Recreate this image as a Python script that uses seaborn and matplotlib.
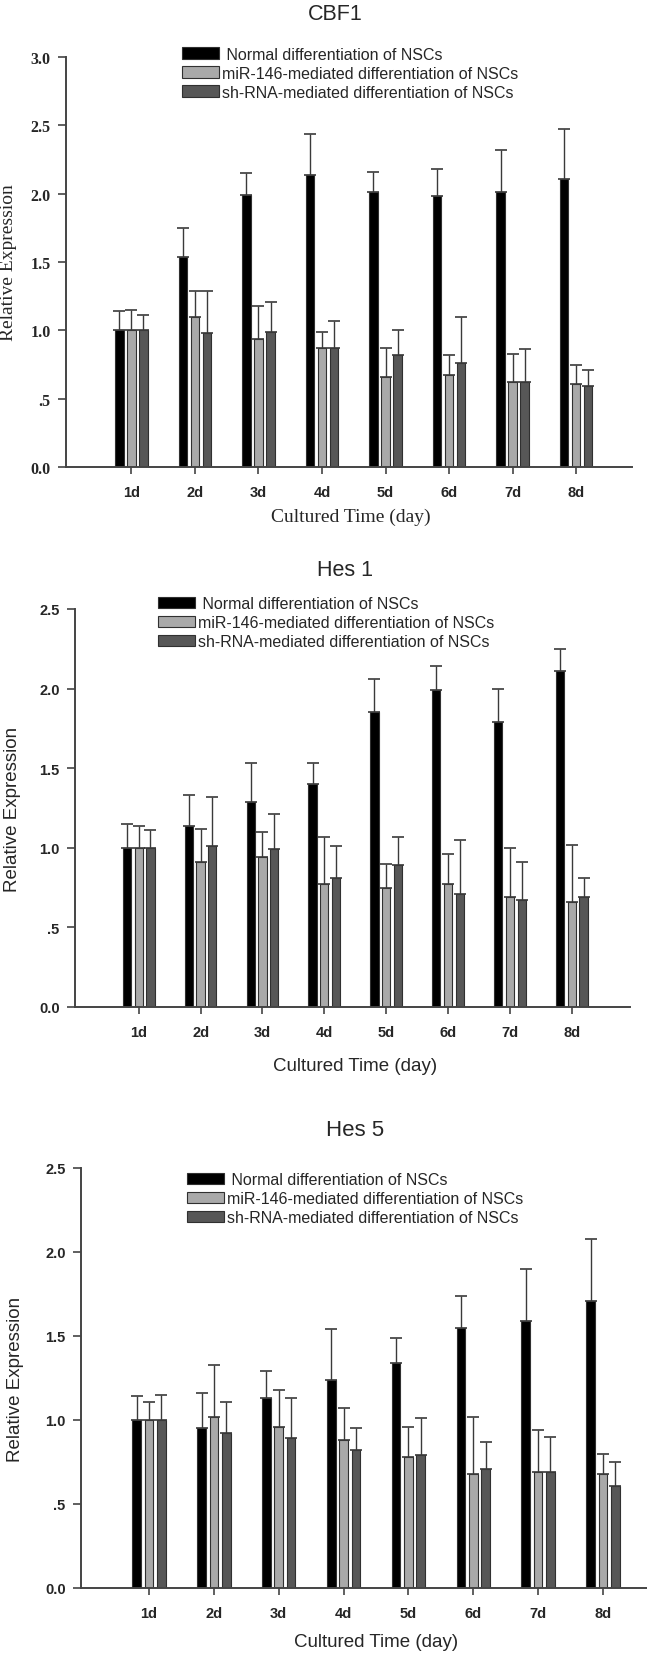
import matplotlib
matplotlib.use("Agg")
import matplotlib.pyplot as plt
import seaborn as sns
import pandas as pd

days = ["1d", "2d", "3d", "4d", "5d", "6d", "7d", "8d"]
groups = [" Normal differentiation of NSCs",
          "miR-146-mediated differentiation of NSCs",
          "sh-RNA-mediated differentiation of NSCs"]

# CBF1: means and error (upper SD) per group
cbf1_normal = [1.00, 1.54, 1.99, 2.14, 2.01, 1.98, 2.01, 2.11]
cbf1_normal_sd = [0.14, 0.21, 0.16, 0.30, 0.15, 0.20, 0.31, 0.36]
cbf1_mir = [1.00, 1.10, 0.94, 0.87, 0.66, 0.67, 0.62, 0.61]
cbf1_mir_sd = [0.15, 0.19, 0.24, 0.12, 0.21, 0.15, 0.21, 0.14]
cbf1_sh = [1.00, 0.98, 0.99, 0.87, 0.82, 0.76, 0.62, 0.59]
cbf1_sh_sd = [0.11, 0.31, 0.22, 0.20, 0.18, 0.34, 0.24, 0.12]

# Hes 1
hes1_normal = [1.00, 1.14, 1.29, 1.40, 1.85, 1.99, 1.79, 2.11]
hes1_normal_sd = [0.15, 0.19, 0.24, 0.13, 0.21, 0.15, 0.21, 0.14]
hes1_mir = [1.00, 0.91, 0.94, 0.77, 0.75, 0.77, 0.69, 0.66]
hes1_mir_sd = [0.14, 0.21, 0.16, 0.30, 0.15, 0.19, 0.31, 0.36]
hes1_sh = [1.00, 1.01, 0.99, 0.81, 0.89, 0.71, 0.67, 0.69]
hes1_sh_sd = [0.11, 0.31, 0.22, 0.20, 0.18, 0.34, 0.24, 0.12]

# Hes 5
hes5_normal = [1.00, 0.95, 1.13, 1.24, 1.34, 1.55, 1.59, 1.71]
hes5_normal_sd = [0.14, 0.21, 0.16, 0.30, 0.15, 0.19, 0.31, 0.37]
hes5_mir = [1.00, 1.02, 0.96, 0.88, 0.78, 0.68, 0.69, 0.68]
hes5_mir_sd = [0.11, 0.31, 0.22, 0.19, 0.18, 0.34, 0.25, 0.12]
hes5_sh = [1.00, 0.92, 0.89, 0.82, 0.79, 0.71, 0.69, 0.61]
hes5_sh_sd = [0.15, 0.19, 0.24, 0.13, 0.22, 0.16, 0.21, 0.14]

W, H = 647, 1658
colors = ["#000000", "#a9a9a9", "#575757"]
axis_col = "#444444"

sns.set_style("ticks")
plt.rcParams["font.family"] = ["Liberation Sans", "DejaVu Sans"]

fig = plt.figure(figsize=(W / 100, H / 100), dpi=100)


def px_axes(left, top, right, bottom):
    # pixel box -> figure fraction axes
    return fig.add_axes([left / W, 1 - bottom / H, (right - left) / W, (bottom - top) / H])


def draw_panel(ax, means, sds, ymax, serif, xlim, ylab_x, xlab_pos, leg_pos):
    df = pd.DataFrame({
        "day": days * 3,
        "group": [g for g in groups for _ in days],
        "value": means[0] + means[1] + means[2],
    })
    sns.barplot(data=df, x="day", y="value", hue="group", hue_order=groups,
                palette=colors, width=0.57, gap=0.3, errorbar=None,
                edgecolor="#303030", linewidth=0.8, legend=False, ax=ax)
    bars = list(ax.containers)
    for cont, sd in zip(bars, sds):
        xs = [p.get_x() + p.get_width() / 2 for p in cont]
        ys = [p.get_height() for p in cont]
        ax.errorbar(xs, ys, yerr=[[0] * len(sd), sd], fmt="none",
                    ecolor="#3a3a3a", elinewidth=1.0, capsize=4.5, capthick=1.2)

    ax.set_xlim(*xlim)
    ax.set_ylim(0, ymax)
    ticks = [i * 0.5 for i in range(int(ymax / 0.5) + 1)]
    ax.set_yticks(ticks)
    ax.set_yticklabels([".5" if t == 0.5 else f"{t:.1f}" for t in ticks])

    lab_font = "Liberation Serif" if serif else "Liberation Sans"
    ax.tick_params(axis="y", direction="out", length=6, width=1.2, color=axis_col,
                   pad=5, labelsize=11.5 if serif else 10.5)
    ax.tick_params(axis="x", direction="out", length=5, width=1.2, color=axis_col,
                   pad=8, labelsize=10.5)
    for t in ax.get_yticklabels():
        t.set_fontfamily(lab_font)
        t.set_fontweight("bold")
    for t in ax.get_xticklabels():
        t.set_fontfamily("Liberation Sans")
        t.set_fontweight("bold")

    sns.despine(ax=ax)
    for s in ["left", "bottom"]:
        ax.spines[s].set_color(axis_col)
        ax.spines[s].set_linewidth(1.4)

    ax.set_ylabel("Relative Expression", fontsize=14 if serif else 13.5, family=lab_font)
    ax.yaxis.set_label_coords(ylab_x, 0.5)
    ax.set_xlabel("Cultured Time (day)", fontsize=14 if serif else 13.5, family=lab_font)
    ax.xaxis.set_label_coords(*xlab_pos)

    ax.legend(bars, groups, loc="upper left", bbox_to_anchor=leg_pos, frameon=False,
              fontsize=11.5, handlelength=2.3, handleheight=0.72, handletextpad=0.2,
              labelspacing=0.25, borderpad=0, borderaxespad=0)


ax1 = px_axes(66, 58, 632, 468)
draw_panel(ax1, [cbf1_normal, cbf1_mir, cbf1_sh], [cbf1_normal_sd, cbf1_mir_sd, cbf1_sh_sd],
           3.0, True, (-1.03, 7.88), -0.087, (0.504, -0.1), (0.205, 1.025))
fig.text(335 / W, 1 - 14 / H, "CBF1", ha="center", va="center", fontsize=15.5)

ax2 = px_axes(75, 610, 630, 1008)
draw_panel(ax2, [hes1_normal, hes1_mir, hes1_sh], [hes1_normal_sd, hes1_mir_sd, hes1_sh_sd],
           2.5, False, (-1.03, 7.94), -0.098, (0.505, -0.126), (0.15, 1.033))
fig.text(345 / W, 1 - 570 / H, "Hes 1", ha="center", va="center", fontsize=15.5)

ax3 = px_axes(81, 1169, 647, 1589)
draw_panel(ax3, [hes5_normal, hes5_mir, hes5_sh], [hes5_normal_sd, hes5_mir_sd, hes5_sh_sd],
           2.5, False, (-1.05, 7.68), -0.1, (0.521, -0.108), (0.187, 0.99))
fig.text(355 / W, 1 - 1131 / H, "Hes 5", ha="center", va="center", fontsize=16)

fig.savefig("out.png", dpi=100)
